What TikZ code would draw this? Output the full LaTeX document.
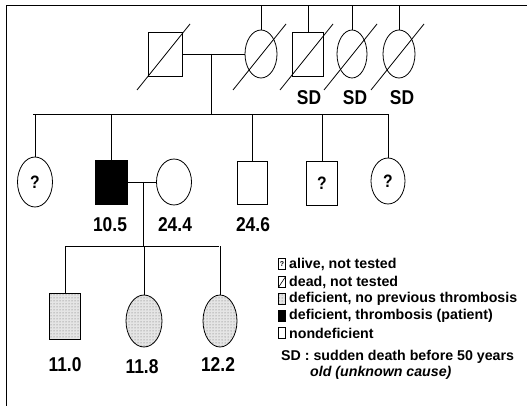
\documentclass[tikz,border=0pt]{standalone}
\usepackage{fontspec}
\setmainfont{Liberation Sans}
\newfontfamily\narrowfont{Liberation Sans}[FakeStretch=0.87]
\usetikzlibrary{shapes.geometric,patterns,calc}
\tikzset{
  ln/.style={draw=black,line width=0.8pt},
  male/.style={rectangle,draw,line width=0.8pt,inner sep=0pt,
               minimum width=31,minimum height=44,font=\narrowfont\fontsize{18}{20}\selectfont\bfseries},
  female/.style={ellipse,draw,line width=0.8pt,inner sep=0pt,
                 minimum width=33,minimum height=48,font=\narrowfont\fontsize{18}{20}\selectfont\bfseries},
  aff/.style={fill=black},
  carrier/.style={preaction={fill=black!10},pattern=dots,pattern color=black!60},
  val/.style={font=\narrowfont\fontsize{20}{22}\selectfont\bfseries,inner sep=0pt},
  leg/.style={anchor=west,inner sep=0pt,font=\fontsize{14.2}{16}\selectfont\bfseries},
  lsym/.style={rectangle,draw,line width=0.6pt,inner sep=0pt,minimum width=7,
               minimum height=11,font=\fontsize{7}{7}\selectfont\bfseries},
}
\begin{document}
\begin{tikzpicture}[x=1pt,y=-1pt]
\useasboundingbox (0,0) rectangle (527,406);
  % rahmen
  \coordinate (tb) at (261,5);
  \draw[ln] (527,5) -- (6,5) -- (6,406);
  % generation I
  \node[male] (gf) at (165,54) [minimum width=34] {};
  \node[female] (gm) at (261,54) [minimum width=32] {};
  \node[male] (u1) at (308,54) {};
  \node[female] (a1) at (352,54) [minimum width=30] {};
  \node[female] (a2) at (399,54) [minimum width=32] {};
  \foreach \n in {gf,gm,u1,a1,a2}
    \draw[ln] ($(\n.center)+(-28,36)$) -- ($(\n.center)+(25,-30)$);
  \foreach \n in {gm,u1,a1,a2}
    \draw[ln] (\n.north) -- (\n.north |- tb);
  \node[val] (sd1) at (309,98) {SD};
  \node[val] (sd2) at (355,98) {SD};
  \node[val] (sd3) at (402,98) {SD};
  \coordinate (d1) at (211,54);
  \coordinate (b1) at (211,114);
  \coordinate (r2l) at (33,114);
  \coordinate (r2r) at (388,114);
  \draw[ln] (gf.east) -- (gm.west);
  \draw[ln] (d1) -- (b1);
  \draw[ln] (r2l) -- (r2r);
  % generation II
  \node[female] (s1) at (35,182) [minimum width=35,minimum height=50] {?};
  \node[male,aff] (pt) at (111,182) [minimum width=32] {};
  \node[female] (sp) at (174,182) [minimum width=35,minimum height=46] {};
  \node[male] (s2) at (252,183) [minimum width=30,minimum height=43] {};
  \node[male] (s3) at (322,183) {?};
  \node[female] (s4) at (388,181) [minimum width=34,minimum height=46] {?};
  \foreach \n in {s1,pt,s2,s3,s4}
    \draw[ln] (\n.north) -- (\n.north |- b1);
  \node[val] (v1) at (110,225) {10.5};
  \node[val] (v2) at (175,225) {24.4};
  \node[val] (v3) at (253,225) {24.6};
  \coordinate (d2) at (143,182);
  \coordinate (b2) at (143,246);
  \coordinate (r3l) at (66,246);
  \coordinate (r3r) at (219,246);
  \draw[ln] (pt.east) -- (sp.west);
  \draw[ln] (d2) -- (b2);
  \draw[ln] (r3l) -- (r3r);
  % generation III
  \node[male,carrier] (c1) at (65,316) [minimum height=46] {};
  \node[female,carrier] (c2) at (144,321) [minimum width=36,minimum height=52] {};
  \node[female,carrier] (c3) at (220,321) [minimum width=34,minimum height=52] {};
  \foreach \n in {c1,c2,c3}
    \draw[ln] (\n.north) -- (\n.north |- b2);
  \node[val] (v4) at (65,365) {11.0};
  \node[val] (v5) at (142,367) {11.8};
  \node[val] (v6) at (218,365) {12.2};
  % legende
  \node[lsym] (k1) at (282,264) {?};
  \node[lsym] (k2) at (282,282) {};
  \node[lsym,carrier] (k3) at (282,299) {};
  \node[lsym,aff] (k4) at (282,316) {};
  \node[lsym] (k5) at (282,333) {};
  \draw[line width=0.6pt] (k2.south west) -- (k2.north east);
  \node[leg] (t1) at (289,264) {alive, not tested};
  \node[leg] (t2) at (289,282) {dead, not tested};
  \node[leg] (t3) at (289,299) {deficient, no previous thrombosis};
  \node[leg] (t4) at (289,316) {deficient, thrombosis (patient)};
  \node[leg] (t5) at (289,333) {nondeficient};
  \node[leg] (t6) at (281,357) {SD : sudden death before 50 years};
  \node[leg] (t7) at (310,373) {\itshape old (unknown cause)};
\end{tikzpicture}
\end{document}
